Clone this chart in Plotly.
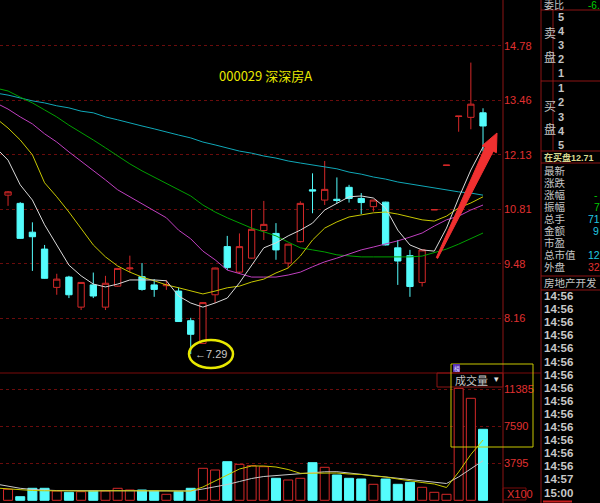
import plotly.graph_objects as go

# ---------------- data ----------------
idx = list(range(40))
opens = [11.15, 10.95, 10.25, 9.84, 8.91, 9.16, 8.43, 8.97, 8.43, 8.94,
         9.36, 9.17, 8.97, 8.95, 8.82, 8.10, 7.55, 8.73, 9.90, 9.28,
         9.62, 10.29, 10.22, 9.50, 10.02, 11.28, 11.03, 11.05, 11.34, 11.07,
         10.87, 10.98, 9.87, 9.68, 9.03, 10.79, 11.87, 13.06, 13.04, 13.15]
highs = [11.25, 10.98, 10.49, 9.94, 9.24, 9.19, 9.04, 9.27, 9.19, 9.38,
         9.68, 9.50, 9.11, 9.09, 8.91, 8.17, 8.55, 9.39, 10.16, 10.22,
         10.81, 11.01, 10.47, 9.97, 11.00, 11.68, 11.98, 11.58, 11.40, 11.20,
         11.04, 10.99, 10.06, 9.82, 9.83, 10.80, 11.88, 13.07, 14.37, 13.26]
lows = [10.89, 10.09, 9.31, 9.12, 8.73, 8.65, 8.36, 8.65, 8.36, 8.93,
        9.27, 8.83, 8.68, 8.85, 8.07, 7.29, 7.54, 8.53, 9.33, 9.25,
        9.61, 10.06, 9.58, 9.38, 10.00, 10.71, 10.91, 10.95, 10.97, 10.69,
        10.75, 9.93, 8.97, 8.68, 8.93, 10.79, 11.87, 12.69, 12.75, 12.21]
closes = [11.23, 10.10, 10.14, 9.13, 9.11, 8.73, 9.03, 8.70, 9.01, 9.37,
          9.38, 8.86, 8.86, 8.98, 8.08, 7.77, 8.54, 9.38, 9.39, 9.90,
          10.32, 10.44, 9.82, 9.96, 10.95, 11.25, 11.29, 11.02, 11.07, 10.97,
          11.03, 9.94, 9.55, 8.93, 9.82, 10.80, 11.88, 13.07, 13.36, 12.83]
volumes = [1129, 370, 1231, 1231, 954, 821, 882, 954, 954, 1231,
           1057, 1057, 954, 616, 882, 1231, 3283, 3109, 3960, 3694,
           3550, 3447, 2257, 2083, 2257, 3858, 3386, 2596, 2257, 2185,
           1642, 2185, 1642, 1847, 1334, 821, 616, 11491, 10465, 7285]

ma_idx = list(range(-1, 40))
ma5 = [12.30, 12.00, 11.40, 11.03, 10.43, 9.94, 9.45, 9.19, 8.99, 8.92,
       8.99, 9.09, 9.09, 9.09, 9.07, 8.70, 8.53, 8.43, 8.53, 8.65,
       9.02, 9.43, 9.87, 9.99, 10.16, 10.30, 10.47, 10.79, 10.96, 11.11,
       11.13, 11.08, 10.84, 10.30, 9.94, 9.82, 9.79, 10.35, 11.08, 11.76, 12.32]
ma10 = [13.02, 12.78, 12.49, 12.13, 11.45, 11.11, 10.74, 10.35, 9.94, 9.65,
        9.43, 9.28, 9.16, 9.07, 8.97, 8.90, 8.82, 8.75, 8.82, 8.90,
        8.94, 9.04, 9.11, 9.26, 9.38, 9.67, 10.06, 10.35, 10.50, 10.62,
        10.67, 10.72, 10.74, 10.69, 10.62, 10.55, 10.52, 10.64, 10.84, 10.96, 11.11]
ma20 = [13.39, 13.24, 13.05, 12.88, 12.64, 12.44, 12.20, 11.98, 11.74, 11.52,
        11.28, 11.11, 10.94, 10.79, 10.60, 10.30, 10.09, 9.79, 9.58, 9.33,
        9.24, 9.16, 9.16, 9.16, 9.21, 9.28, 9.41, 9.53, 9.62, 9.72,
        9.82, 9.89, 9.96, 10.04, 10.13, 10.23, 10.40, 10.55, 10.64, 10.79, 10.91]
ma30 = [13.75, 13.68, 13.53, 13.39, 13.22, 13.05, 12.85, 12.68, 12.49, 12.30,
        12.10, 11.91, 11.74, 11.59, 11.45, 11.30, 11.13, 10.91, 10.74, 10.60,
        10.47, 10.35, 10.26, 10.16, 10.01, 9.87, 9.82, 9.77, 9.70, 9.67,
        9.65, 9.65, 9.65, 9.65, 9.65, 9.67, 9.75, 9.84, 9.96, 10.09, 10.23]
ma60 = [13.63, 13.58, 13.51, 13.44, 13.39, 13.32, 13.27, 13.19, 13.15, 13.05,
        12.98, 12.90, 12.83, 12.76, 12.68, 12.61, 12.54, 12.44, 12.37, 12.30,
        12.22, 12.17, 12.10, 12.05, 11.98, 11.93, 11.88, 11.83, 11.79, 11.71,
        11.66, 11.59, 11.54, 11.47, 11.42, 11.37, 11.32, 11.28, 11.23, 11.20, 11.15]
vol_ma5 = [1262, 1159, 1057, 1005, 980, 960, 950, 930, 950, 980,
           990, 1010, 1020, 1000, 970, 950, 950, 1365, 1980, 2647,
           3211, 3519, 3519, 3417, 3160, 2770, 2800, 2832, 2800, 2698,
           2647, 2493, 2391, 2185, 1980, 1826, 1672, 1313, 2900, 4700, 6187]
vol_ma10 = [1672, 1467, 1231, 1108, 1026, 1000, 990, 980, 980, 990,
            1000, 1000, 990, 980, 970, 960, 960, 1159, 1365, 1621,
            1929, 2237, 2442, 2544, 2647, 2770, 2852, 2924, 2934, 2800,
            2647, 2544, 2391, 2257, 2134, 2031, 1878, 1724, 2400, 3273, 4063]

price_ticks = [8.16, 9.48, 10.81, 12.13, 13.46, 14.78]
vol_ticks = [3795, 7590, 11385]
title_text = "000029 深深房A"
info_labels = ["最新", "涨跌", "涨幅", "振幅", "总手", "金额", "市盈", "总市值", "外盘"]
info_values = ["", "", "-", "7", "71", "9", "", "12", "32"]
time_labels = ["14:56"] * 14 + ["14:57", "15:00"]

# ---------------- styling ----------------
W, H = 600, 503
PW = 503          # plot area width (px)
SPLIT = 373       # price / volume separator (px)
RED = "#d42828"
CYAN = "#54fcfc"
GRID = "#6a0c0c"
FRAME = "#8c1414"
GREY = "#c4c4c4"
LAT_CJK = "Liberation Sans, Noto Sans CJK SC"


def px(x):
    return x / PW


def py(y):
    return 1 - y / H


fig = go.Figure()

fig.add_trace(go.Candlestick(
    x=idx, open=opens, high=highs, low=lows, close=closes,
    increasing=dict(line=dict(color=RED, width=1), fillcolor="#000000"),
    decreasing=dict(line=dict(color=CYAN, width=1), fillcolor=CYAN),
    whiskerwidth=0, hoverinfo="skip", showlegend=False))

for vals, col in [(ma60, "#10a8b8"), (ma30, "#00a000"), (ma20, "#c040c0"),
                  (ma10, "#c8c800"), (ma5, "#d8d8d8")]:
    fig.add_trace(go.Scatter(x=ma_idx, y=vals, mode="lines",
                             line=dict(color=col, width=1), hoverinfo="skip",
                             showlegend=False))

# volume bars
up = [c >= o for o, c in zip(opens, closes)]
fig.add_trace(go.Bar(
    x=[i for i, u in zip(idx, up) if u], y=[v for v, u in zip(volumes, up) if u],
    width=0.74, marker=dict(color="#000000", line=dict(color=RED, width=1)),
    yaxis="y2", hoverinfo="skip", showlegend=False))
fig.add_trace(go.Bar(
    x=[i for i, u in zip(idx, up) if not u], y=[v for v, u in zip(volumes, up) if not u],
    width=0.74, marker=dict(color=CYAN, line=dict(color=CYAN, width=1)),
    yaxis="y2", hoverinfo="skip", showlegend=False))
fig.add_trace(go.Scatter(x=ma_idx, y=vol_ma10, mode="lines", yaxis="y2",
                         line=dict(color="#c8c8c8", width=1), hoverinfo="skip", showlegend=False))
fig.add_trace(go.Scatter(x=ma_idx, y=vol_ma5, mode="lines", yaxis="y2",
                         line=dict(color="#c8c800", width=1), hoverinfo="skip", showlegend=False))

# low-point label
low_i = min(idx, key=lambda i: lows[i])
annotations = [
    dict(x=low_i, y=lows[low_i], xref="x", yref="y", text="←%.2f" % lows[low_i],
         showarrow=False, xanchor="left", yanchor="middle", xshift=2,
         font=dict(family="Liberation Sans", size=11, color="#c8c8c8")),
    dict(x=px(217), y=py(76), xref="paper", yref="paper", text=title_text,
         showarrow=False, xanchor="left", yanchor="middle",
         font=dict(family="Noto Sans CJK SC", size=13, color="#e8e800")),
    dict(x=px(505), y=py(494), xref="paper", yref="paper", text="X100",
         showarrow=False, xanchor="left", yanchor="middle",
         font=dict(family="Liberation Sans", size=11, color="#e03030")),
    dict(x=px(453), y=py(380), xref="paper", yref="paper", text="成交量",
         showarrow=False, xanchor="left", yanchor="middle",
         font=dict(family="Noto Sans CJK SC", size=11, color=GREY)),
    dict(x=px(496), y=py(379), xref="paper", yref="paper", text="▾",
         showarrow=False, xanchor="center", yanchor="middle",
         font=dict(family="DejaVu Sans", size=9, color="#e0e0e0")),
    dict(x=px(456.5), y=py(368), xref="paper", yref="paper", text="榜",
         showarrow=False, xanchor="center", yanchor="middle",
         font=dict(family="Noto Sans CJK SC", size=6, color="#e0e0ff")),
]

# right information panel
def txt(t, x, y, color=GREY, size=12, fam=LAT_CJK, anchor="left"):
    annotations.append(dict(x=px(x), y=py(y), xref="paper", yref="paper", text=t,
                            showarrow=False, xanchor=anchor, yanchor="middle",
                            font=dict(family=fam, size=size, color=color)))

txt("委比", 542, 5, size=10)
txt("-6.", 586, 5, color="#00d000", fam="Liberation Sans", size=10)
txt("卖", 542, 34)
txt("盘", 542, 57)
txt("买", 542, 107)
txt("盘", 542, 129)
for k, yy in zip(["5", "4", "3", "2", "1"], [17, 31, 45, 59, 73]):
    txt("<b>%s</b>" % k, 556, yy, fam="Liberation Sans", size=11)
for k, yy in zip(["1", "2", "3", "4", "5"], [88, 102, 117, 131, 145]):
    txt("<b>%s</b>" % k, 556, yy, fam="Liberation Sans", size=11)
txt("<b>在买盘12.71</b>", 542, 157, color="#d8d890", size=9)
value_colors = ["", "", "#00c800", "#00c800", "#20c8e0", "#20c8e0", "", "#20c8e0", "#e03030"]
value_x = [0, 0, 592, 592, 586, 591, 0, 586, 586]
for j, (lab, val) in enumerate(zip(info_labels, info_values)):
    yy = 171 + j * 12.0
    txt(lab, 542, yy, size=10.5)
    if val:
        txt(val, value_x[j], yy, color=value_colors[j], fam="Liberation Sans", size=10.5)
txt("房地产开发", 542, 283, size=10.5)
for j, t in enumerate(time_labels):
    txt("<b>%s</b>" % t, 542, 296 + j * 13.1, fam="Liberation Sans", size=11.5, color="#c8c8c8")

# decorative shapes
shapes = []
def hline(y, x0, x1, color=FRAME, width=1):
    shapes.append(dict(type="line", xref="paper", yref="paper", x0=px(x0), x1=px(x1),
                       y0=py(y), y1=py(y), line=dict(color=color, width=width)))
def vline(x, y0, y1, color=FRAME, width=1):
    shapes.append(dict(type="line", xref="paper", yref="paper", x0=px(x), x1=px(x),
                       y0=py(y0), y1=py(y1), line=dict(color=color, width=width)))

vline(503, 0, 503)
vline(541, 0, 503)
hline(SPLIT, 0, 541, color="#7a0a0a")
for yy in [10, 81, 151, 163, 276, 290]:
    hline(yy, 541, 600)
vline(553, 10, 151)
hline(501.5, 543, 572, color="#c82020", width=2)
shapes.append(dict(type="rect", xref="paper", yref="paper", x0=px(437), x1=px(503),
                   y0=py(373), y1=py(387), line=dict(color=FRAME, width=1)))
shapes.append(dict(type="rect", xref="paper", yref="paper", x0=px(451), x1=px(533),
                   y0=py(364), y1=py(447), line=dict(color="#c8c800", width=1)))
shapes.append(dict(type="rect", xref="paper", yref="paper", x0=px(453), x1=px(460),
                   y0=py(364), y1=py(372), line=dict(width=0), fillcolor="#5a34b4"))
shapes.append(dict(type="rect", xref="paper", yref="paper", x0=px(503), x1=px(526),
                   y0=py(488), y1=py(500), line=dict(color="#7a0a0a", width=1)))
# yellow ellipse round the low label
shapes.append(dict(type="circle", xref="paper", yref="paper", x0=px(189), x1=px(233),
                   y0=py(340), y1=py(368), line=dict(color="#e8e800", width=2.5)))
# red arrow (pixel outline -> paper)
arrow = [(436.3, 257.6), (485.2, 147.3), (482.0, 145.8), (497.0, 133.0),
         (496.4, 152.7), (493.3, 151.2), (437.7, 258.4)]
path = "M " + " L ".join("%.4f,%.4f" % (px(a), py(b)) for a, b in arrow) + " Z"
shapes.append(dict(type="path", xref="paper", yref="paper", path=path,
                   fillcolor="#f03030", line=dict(color="#f03030", width=1)))

split_frac = 1 - SPLIT / H
fig.update_layout(
    width=W, height=H, margin=dict(l=0, r=W - PW, t=0, b=0),
    paper_bgcolor="#000000", plot_bgcolor="#000000",
    barmode="overlay", boxgap=0.26, showlegend=False, hovermode=False,
    xaxis=dict(range=[-0.66, 40.64], visible=False, fixedrange=True,
               rangeslider=dict(visible=False)),
    yaxis=dict(domain=[split_frac, 1], range=[6.83, 15.89], side="right",
               tickvals=price_ticks, ticktext=["%.2f" % v for v in price_ticks],
               showgrid=True, gridcolor=GRID, griddash="dot", gridwidth=1,
               zeroline=False, showline=False, ticks="",
               tickfont=dict(family="Liberation Sans", size=11, color="#e03030")),
    yaxis2=dict(domain=[0, split_frac], range=[-277, 13061], side="right", anchor="x",
                tickvals=vol_ticks, ticktext=[str(v) for v in vol_ticks],
                showgrid=True, gridcolor=GRID, griddash="dot", gridwidth=1,
                zeroline=False, showline=False, ticks="",
                tickfont=dict(family="Liberation Sans", size=11, color="#e03030")),
    annotations=annotations, shapes=shapes,
)

fig.write_html("out.html", config={"displayModeBar": False},
               post_script="document.body.style.margin='0';document.body.style.background='#000';")
